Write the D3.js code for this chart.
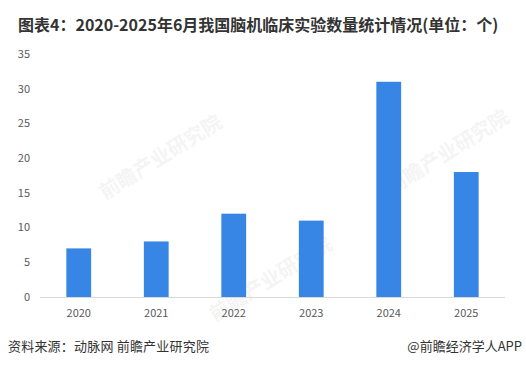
<!DOCTYPE html>
<html lang="zh">
<head>
    <meta charset="UTF-8">
    <title>2020-2025年6月我国脑机临床实验数量统计情况</title>
    <script src="https://d3js.org/d3.v7.min.js"></script>
    <style>
        body { margin: 0; background: #fff; }
        svg { display: block; font-family: "Noto Sans CJK SC", "Noto Sans", sans-serif; }
    </style>
</head>
<body>
    <script>
        const years = ["2020", "2021", "2022", "2023", "2024", "2025"];
        const trials = [7, 8, 12, 11, 31, 18];
        const yTicks = [0, 5, 10, 15, 20, 25, 30, 35];

        const width = 526;
        const height = 367;
        const margin = { top: 54, right: 21, bottom: 70, left: 40 };

        const svg = d3.select("body").append("svg")
            .attr("width", width)
            .attr("height", height);

        // title
        svg.append("text")
            .attr("x", 18)
            .attr("y", 31)
            .attr("font-size", 16)
            .attr("font-weight", "bold")
            .attr("fill", "#333")
            .text("图表4：2020-2025年6月我国脑机临床实验数量统计情况(单位：个)");

        const x = d3.scaleBand()
            .domain(years)
            .range([margin.left, width - margin.right])
            .paddingInner(0.68)
            .paddingOuter(0.34);

        const y = d3.scaleLinear()
            .domain([0, 35])
            .range([height - margin.bottom, margin.top]);

        // faint watermarks
        const wm = [[105, 200], [392, 195], [215, 322]];
        wm.forEach(([wx, wy]) => {
            svg.append("text")
                .attr("transform", `translate(${wx},${wy}) rotate(-32)`)
                .attr("font-size", 20)
                .attr("font-weight", "bold")
                .attr("fill", "#000")
                .attr("opacity", 0.04)
                .text("前瞻产业研究院");
        });

        // baseline
        svg.append("line")
            .attr("x1", margin.left)
            .attr("x2", width - margin.right)
            .attr("y1", y(0) + 0.5)
            .attr("y2", y(0) + 0.5)
            .attr("stroke", "#d9d9d9");

        svg.selectAll(".bar")
            .data(trials)
            .enter().append("rect")
            .attr("class", "bar")
            .attr("x", (d, i) => x(years[i]))
            .attr("y", d => y(d))
            .attr("width", x.bandwidth())
            .attr("height", d => y(0) - y(d))
            .attr("fill", "#3785e4");

        // y axis labels
        svg.selectAll(".ytick")
            .data(yTicks)
            .enter().append("text")
            .attr("class", "ytick")
            .attr("x", 30)
            .attr("y", d => y(d))
            .attr("dy", "0.35em")
            .attr("text-anchor", "end")
            .attr("font-size", 11)
            .attr("fill", "#595959")
            .text(d => d);

        // x axis labels
        svg.selectAll(".xtick")
            .data(years)
            .enter().append("text")
            .attr("class", "xtick")
            .attr("x", d => x(d) + x.bandwidth() / 2)
            .attr("y", y(0) + 16)
            .attr("dy", "0.35em")
            .attr("text-anchor", "middle")
            .attr("font-size", 11)
            .attr("fill", "#595959")
            .text(d => d);

        // footer
        svg.append("text")
            .attr("x", 8)
            .attr("y", 351)
            .attr("font-size", 13)
            .attr("letter-spacing", 0.2)
            .attr("fill", "#333")
            .text("资料来源：动脉网 前瞻产业研究院");

        svg.append("text")
            .attr("x", 522)
            .attr("y", 351)
            .attr("text-anchor", "end")
            .attr("font-size", 13)
            .attr("fill", "#333")
            .text("@前瞻经济学人APP");
    </script>
</body>
</html>
